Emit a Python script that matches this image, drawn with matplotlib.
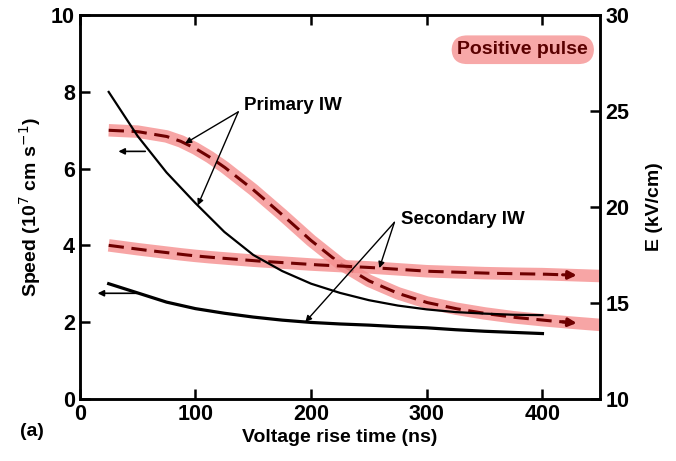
import numpy as np
import matplotlib
matplotlib.use("Agg")
import matplotlib.pyplot as plt

plt.rcParams['font.family'] = ['Liberation Sans', 'DejaVu Sans']

# speed (left axis), 10^7 cm/s
x_speed = [25, 50, 75, 100, 125, 150, 175, 200, 225, 250, 275, 300, 325, 350, 375, 400]
primary_speed = [8.0, 6.85, 5.9, 5.1, 4.35, 3.75, 3.33, 3.0, 2.76, 2.57, 2.43, 2.33, 2.26, 2.22, 2.19, 2.18]
secondary_speed = [3.0, 2.76, 2.52, 2.35, 2.23, 2.13, 2.05, 1.99, 1.95, 1.92, 1.88, 1.85, 1.8, 1.76, 1.73, 1.70]

# field (right axis), kV/cm
x_field = [25, 50, 75, 87.5, 100, 112.5, 125, 150, 175, 200, 225, 250, 275, 300, 325, 350, 375, 400, 425, 450]
primary_field = [24.0, 23.93, 23.68, 23.42, 23.05, 22.6, 22.08, 20.9, 19.6, 18.25, 17.05, 16.15, 15.5, 15.02,
                 14.7, 14.45, 14.25, 14.1, 13.97, 13.85]
secondary_field = [18.0, 17.8, 17.62, 17.53, 17.45, 17.38, 17.32, 17.2, 17.1, 17.0, 16.92, 16.85, 16.75, 16.65,
                   16.6, 16.55, 16.52, 16.5, 16.45, 16.4]

band_color = '#f58f8f'
dash_color = '#6e0000'

fig = plt.figure(figsize=(6.76, 4.61), dpi=100)
ax = fig.add_axes([0.118, 0.135, 0.77, 0.832])
ax2 = ax.twinx()

# solid speed curves
ax.plot(x_speed, primary_speed, color='black', lw=1.6)
ax.plot(x_speed, secondary_speed, color='black', lw=2.3)

# field curves: pink band + dark red dashed line ending in arrow
for fy in (primary_field, secondary_field):
    ax2.plot(x_field, fy, color=band_color, lw=9, alpha=0.8, solid_capstyle='butt')
    xs = np.linspace(25, 425, 200)
    ys = np.interp(xs, x_field, fy)
    ax2.plot(xs, ys, color=dash_color, lw=2.2, dashes=(5, 2.5))
    ax2.annotate('', xy=(432, np.interp(432, x_field, fy)), xytext=(415, np.interp(415, x_field, fy)),
                 arrowprops=dict(arrowstyle='-|>', color=dash_color, lw=2.2, mutation_scale=12))

# axis indicator arrows (pointing left)
arr = dict(arrowstyle='-|>', color='black', lw=1.2, mutation_scale=9)
ax.annotate('', xy=(31, 6.45), xytext=(59, 6.45), arrowprops=arr)
ax.annotate('', xy=(13, 2.75), xytext=(52, 2.75), arrowprops=arr)

# labels with pointer arrows
arr = dict(arrowstyle='-|>', color='black', lw=1.0, mutation_scale=9, shrinkA=0, shrinkB=0)
ax.text(142, 7.64, 'Primary IW', fontsize=13.5, fontweight='bold', va='center', ha='left')
ax.annotate('', xy=(91, (np.interp(91, x_field, primary_field) - 10) / 2), xytext=(137, 7.48), arrowprops=arr)
ax.annotate('', xy=(102, np.interp(102, x_speed, primary_speed)), xytext=(137, 7.48), arrowprops=arr)
ax.text(278, 4.68, 'Secondary IW', fontsize=13.5, fontweight='bold', va='center', ha='left')
ax.annotate('', xy=(259, (np.interp(259, x_field, secondary_field) - 10) / 2), xytext=(272, 4.6),
            arrowprops=arr, zorder=5)
ax.annotate('', xy=(195, np.interp(195, x_speed, secondary_speed)), xytext=(272, 4.6), arrowprops=arr)
ax.set_zorder(ax2.get_zorder() + 1)
ax.patch.set_visible(False)

ax.text(383, 9.1, 'Positive pulse', fontsize=14, fontweight='bold', color='#5a0000', ha='center', va='center',
        bbox=dict(boxstyle='round,pad=0.3,rounding_size=0.8', fc='#f7a8a8', ec='none'))

ax.set_xlim(0, 450)
ax.set_ylim(0, 10)
ax2.set_ylim(10, 30)
ax.set_xticks([0, 100, 200, 300, 400])
ax.set_yticks([0, 2, 4, 6, 8, 10])
ax2.set_yticks([10, 15, 20, 25, 30])

ax.set_xlabel('Voltage rise time (ns)', fontsize=14, fontweight='bold', labelpad=3)
ax.set_ylabel('Speed (10$^7$ cm s$^{-1}$)', fontsize=14, fontweight='bold', labelpad=6)
ax2.set_ylabel('E (kV/cm)', fontsize=14, fontweight='bold', labelpad=12)

ax.tick_params(axis='both', direction='in', length=7, width=1.8, labelsize=15.5, top=True)
ax2.tick_params(axis='y', direction='in', length=7, width=1.8, labelsize=15.5)
for lab in ax.get_xticklabels() + ax.get_yticklabels() + ax2.get_yticklabels():
    lab.set_fontweight('bold')
for a in (ax, ax2):
    for s in a.spines.values():
        s.set_linewidth(1.8)

fig.text(0.03, 0.055, '(a)', fontsize=14, fontweight='bold')

fig.savefig('out.png', dpi=100)
